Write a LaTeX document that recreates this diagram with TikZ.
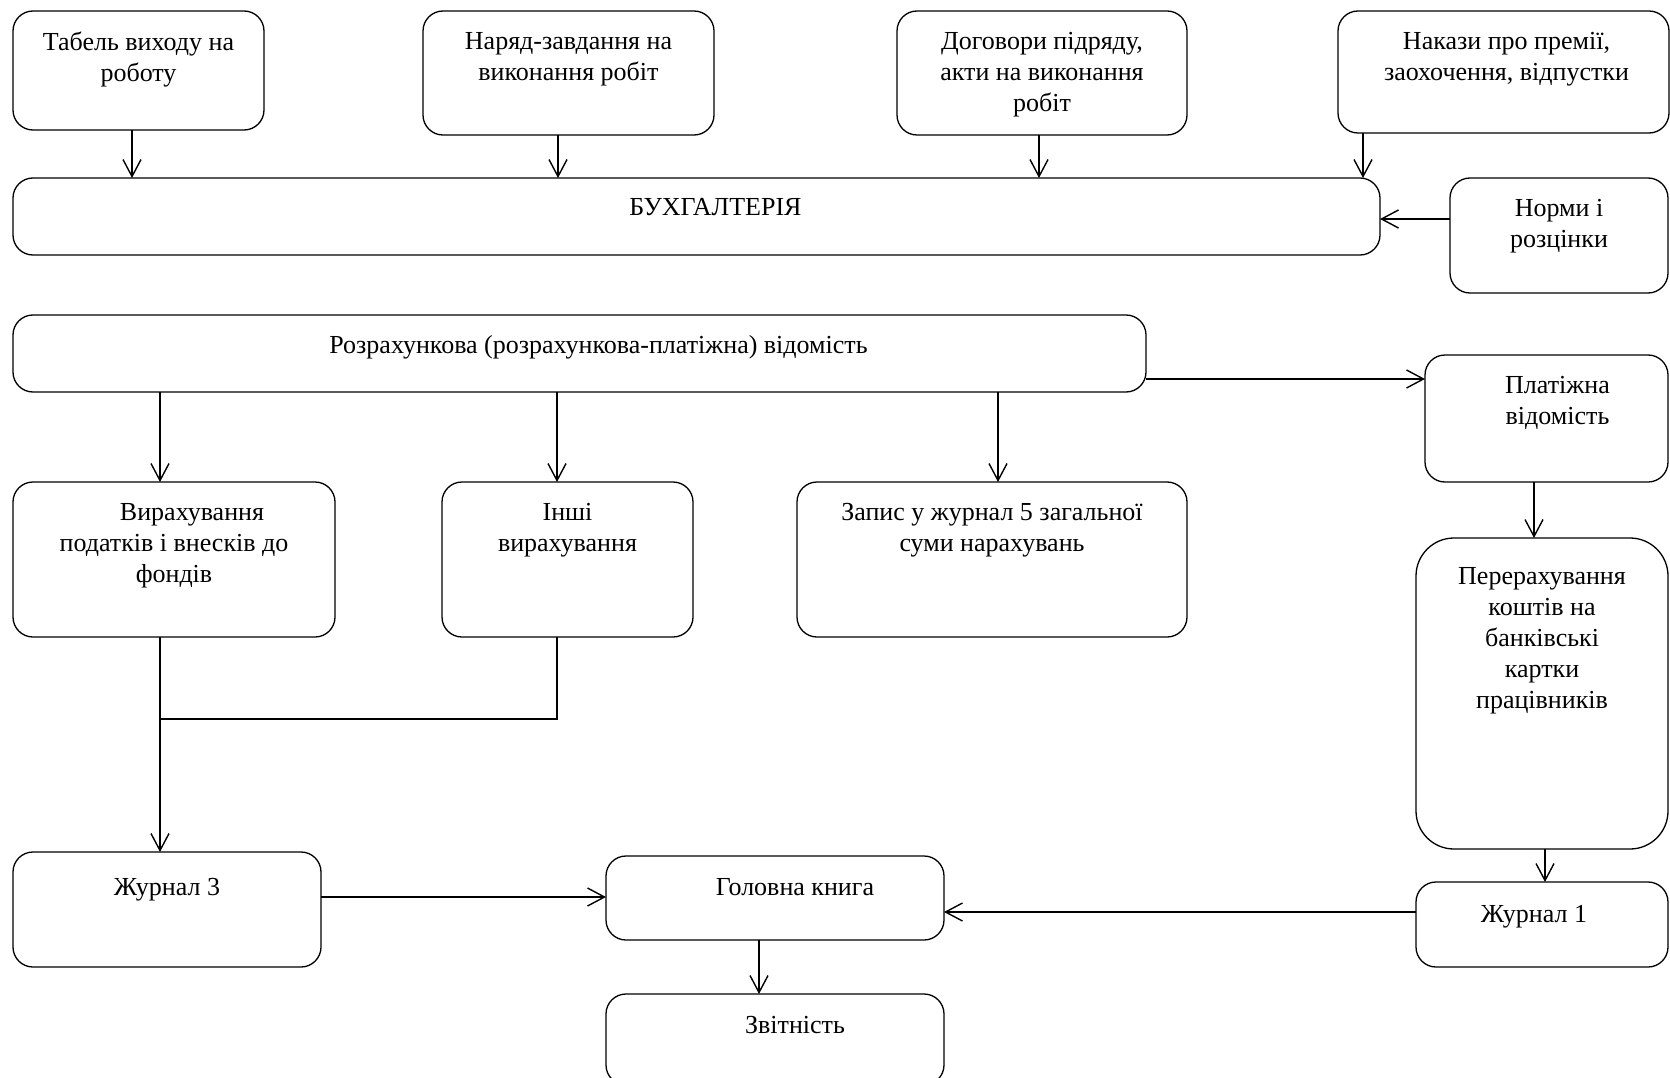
\documentclass[tikz,border=0pt]{standalone}
\usepackage{fontspec}
\setmainfont{Liberation Serif}
\usetikzlibrary{arrows.meta}
\newcommand\dfont{\fontsize{26}{31}\selectfont}
\begin{document}
\begin{tikzpicture}[x=1pt,y=-1pt,
  box/.style={draw, line width=1.3pt, rounded corners=20pt, anchor=north west, outer sep=0pt, inner sep=0pt},
  txt/.style={anchor=north, align=center, inner sep=0pt, font=\dfont},
  arr/.style={line width=1.4pt, -{Straight Barb[length=17pt, width=18pt]}},
  ln/.style={line width=1.4pt}]
\useasboundingbox (0,0) rectangle (1670,1078);
% top sources
\node[box, minimum width=251pt, minimum height=119pt] (tab) at (13,11) {};
\node[txt] (tabt) at ([yshift=-21pt]tab.north) {Табель виходу на\\роботу};
\node[box, minimum width=291pt, minimum height=124pt] (nar) at (423,11) {};
\node[txt] (nart) at ([yshift=-21pt]nar.north) {Наряд-завдання на\\виконання робіт};
\node[box, minimum width=290pt, minimum height=124pt] (dog) at (897,11) {};
\node[txt] (dogt) at ([yshift=-21pt]dog.north) {Договори підряду,\\акти на виконання\\робіт};
\node[box, minimum width=331pt, minimum height=122pt] (nak) at (1338,11) {};
\node[txt] (nakt) at ([yshift=-21pt,xshift=3pt]nak.north) {Накази про премії,\\заохочення, відпустки};
% accounting
\node[box, minimum width=1367pt, minimum height=77pt] (buh) at (13,178) {};
\node[txt] (buht) at ([yshift=-20pt,xshift=19pt]buh.north) {БУХГАЛТЕРІЯ};
\node[box, minimum width=218pt, minimum height=115pt] (nor) at (1450,178) {};
\node[txt] (nort) at ([yshift=-21pt]nor.north) {Норми і\\розцінки};
% statement
\node[box, minimum width=1133pt, minimum height=77pt] (roz) at (13,315) {};
\node[txt] (rozt) at ([yshift=-20pt,xshift=19pt]roz.north) {Розрахункова (розрахункова-платіжна) відомість};
\node[box, minimum width=243pt, minimum height=127pt] (pla) at (1425,355) {};
\node[txt] (plat) at ([yshift=-21pt,xshift=11pt]pla.north) {Платіжна\\відомість};
% third row
\node[box, minimum width=322pt, minimum height=155pt] (vir) at (13,482) {};
\node[txt] (virt) at ([yshift=-21pt]vir.north) {\hspace*{36pt}Вирахування\\податків і внесків до\\фондів};
\node[box, minimum width=251pt, minimum height=155pt] (ins) at (442,482) {};
\node[txt] (inst) at ([yshift=-21pt]ins.north) {Інші\\вирахування};
\node[box, minimum width=390pt, minimum height=155pt] (zap) at (797,482) {};
\node[txt] (zapt) at ([yshift=-21pt]zap.north) {Запис у журнал 5 загальної\\суми нарахувань};
\node[box, rounded corners=38pt, minimum width=252pt, minimum height=311pt] (per) at (1416,538) {};
\node[txt] (pert) at ([yshift=-29pt]per.north) {Перерахування\\коштів на\\банківські\\картки\\працівників};
% bottom
\node[box, minimum width=308pt, minimum height=115pt] (j3) at (13,852) {};
\node[txt] (j3t) at ([yshift=-26pt]j3.north) {Журнал 3};
\node[box, minimum width=338pt, minimum height=84pt] (gol) at (606,856) {};
\node[txt] (golt) at ([yshift=-22pt,xshift=20pt]gol.north) {Головна книга};
\node[box, minimum width=338pt, minimum height=91pt] (zvi) at (606,994) {};
\node[txt] (zvit) at ([yshift=-22pt,xshift=20pt]zvi.north) {Звітність};
\node[box, minimum width=252pt, minimum height=85pt] (j1) at (1416,882) {};
\node[txt] (j1t) at ([yshift=-23pt,xshift=-8pt]j1.north) {Журнал 1};
% connectors
\draw[arr] ([xshift=-6.5pt]tab.south) -- ([xshift=-6.5pt]tab.south |- buh.north);
\draw[arr] ([xshift=-10.5pt]nar.south) -- ([xshift=-10.5pt]nar.south |- buh.north);
\draw[arr] ([xshift=-3pt]dog.south) -- ([xshift=-3pt]dog.south |- buh.north);
\draw[arr] ([xshift=25pt]nak.south west) -- ([xshift=25pt]nak.south west |- buh.north);
\draw[arr] ([yshift=16.5pt]nor.west) -- ([yshift=16.5pt]nor.west -| buh.east);
\draw[arr] ([yshift=-25.5pt]roz.east) -- ([yshift=-25.5pt]roz.east -| pla.west);
\draw[arr] ([xshift=-14pt]vir.north |- roz.south) -- ([xshift=-14pt]vir.north);
\draw[arr] ([xshift=-10.5pt]ins.north |- roz.south) -- ([xshift=-10.5pt]ins.north);
\draw[arr] ([xshift=6pt]zap.north |- roz.south) -- ([xshift=6pt]zap.north);
\draw[arr] ([xshift=-12.5pt]pla.south) -- ([xshift=-12.5pt]pla.south |- per.north);
\coordinate (join) at ([xshift=-14pt,yshift=-82pt]vir.south);
\draw[arr] ([xshift=-14pt]vir.south) -- ([xshift=-14pt]vir.south |- j3.north);
\draw[ln] ([xshift=-10.5pt]ins.south) |- (join);
\draw[arr] ([xshift=3pt]per.south) -- ([xshift=3pt]per.south |- j1.north);
\draw[arr] ([yshift=12.5pt]j3.east) -- ([yshift=12.5pt]j3.east -| gol.west);
\draw[arr] ([yshift=12.5pt]j1.west) -- ([yshift=12.5pt]j1.west -| gol.east);
\draw[arr] ([xshift=-16pt]gol.south) -- ([xshift=-16pt]gol.south |- zvi.north);
\end{tikzpicture}
\end{document}
